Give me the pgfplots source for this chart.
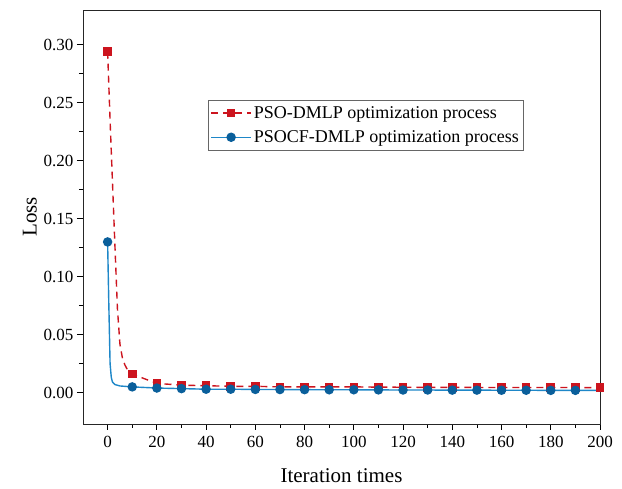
\documentclass[border=0pt]{standalone}
\usepackage{pgfplots}
\pgfplotsset{compat=1.18}
\usepackage{fontspec}
\setmainfont{Liberation Serif}
\definecolor{psored}{RGB}{204,20,30}
\definecolor{psoblue}{RGB}{30,135,200}
\definecolor{psomark}{RGB}{10,95,155}
\begin{document}
\begin{tikzpicture}
\path (-83pt,-65pt) rectangle (539pt,424pt);
\begin{axis}[
    at={(0,0)}, anchor=south west,
    scale only axis,
    width=517pt, height=414pt,
    xmin=-10, xmax=200,
    ymin=-0.027, ymax=0.33,
    xtick={0,20,...,200},
    ytick={0,0.05,...,0.31},
    minor x tick num=1,
    minor y tick num=1,
    tick pos=left,
    tick align=outside,
    major tick length=6pt,
    minor tick length=4pt,
    axis line style={line width=0.9pt, black!85},
    tick style={line width=0.8pt, black},
    /pgf/number format/assume math mode=true,
    yticklabel style={/pgf/number format/fixed, /pgf/number format/fixed zerofill, /pgf/number format/precision=2},
    ticklabel style={font=\fontsize{17}{20}\selectfont},
    xticklabel style={yshift=-3pt},
    xlabel={Iteration times},
    ylabel={Loss},
    label style={font=\fontsize{21}{24}\selectfont},
    xlabel style={yshift=-14pt},
    legend style={at={(rel axis cs:0.242,0.783)}, anchor=north west,
        font=\fontsize{18}{22}\selectfont, draw=black!60, line width=0.6pt,
        inner xsep=2pt, inner ysep=4pt, row sep=7pt},
    legend cell align=left,
    legend image code/.code={
        \draw[mark indices={2}] plot coordinates {(0pt,0pt) (20pt,0pt) (40pt,0pt)};
    },
]
\addplot[psored, line width=1.4pt, dash pattern=on 7pt off 5pt,
    mark=square*, mark size=3.6pt, mark options={solid, fill=psored, draw=psored},
    mark indices={1,11,12,13,14,15,16,17,18,19,20,21,22,23,24,25,26,27,28,29,30}]
coordinates {
(0,0.294) (1,0.235) (2,0.180) (3,0.125) (4,0.072) (5,0.042) (6,0.030) (7,0.024) (8,0.020) (9,0.018)
(10,0.016) (20,0.008) (30,0.0065) (40,0.006) (50,0.0055) (60,0.0055) (70,0.005) (80,0.005) (90,0.005)
(100,0.005) (110,0.0048) (120,0.0047) (130,0.0046) (140,0.0046) (150,0.0045) (160,0.0045)
(170,0.0045) (180,0.0045) (190,0.0044) (200,0.0044)
};
\addlegendentry{PSO-DMLP optimization process}
\addplot[psoblue, line width=1.4pt,
    mark=*, mark size=4pt, mark options={fill=psomark, draw=psomark},
    mark indices={1,8,9,10,11,12,13,14,15,16,17,18,19,20,21,22,23,24,25,26}]
coordinates {
(0,0.130) (0.5,0.075) (1,0.025) (1.5,0.013) (2,0.009) (3,0.007) (5,0.0058)
(10,0.005) (20,0.004) (30,0.0035) (40,0.003) (50,0.003) (60,0.0028) (70,0.0027) (80,0.0026)
(90,0.0025) (100,0.0025) (110,0.0024) (120,0.0023) (130,0.0023) (140,0.0022) (150,0.0022)
(160,0.0021) (170,0.0021) (180,0.002) (190,0.002) (200,0.002)
};
\addlegendentry{PSOCF-DMLP optimization process}
\end{axis}
\end{tikzpicture}
\end{document}
